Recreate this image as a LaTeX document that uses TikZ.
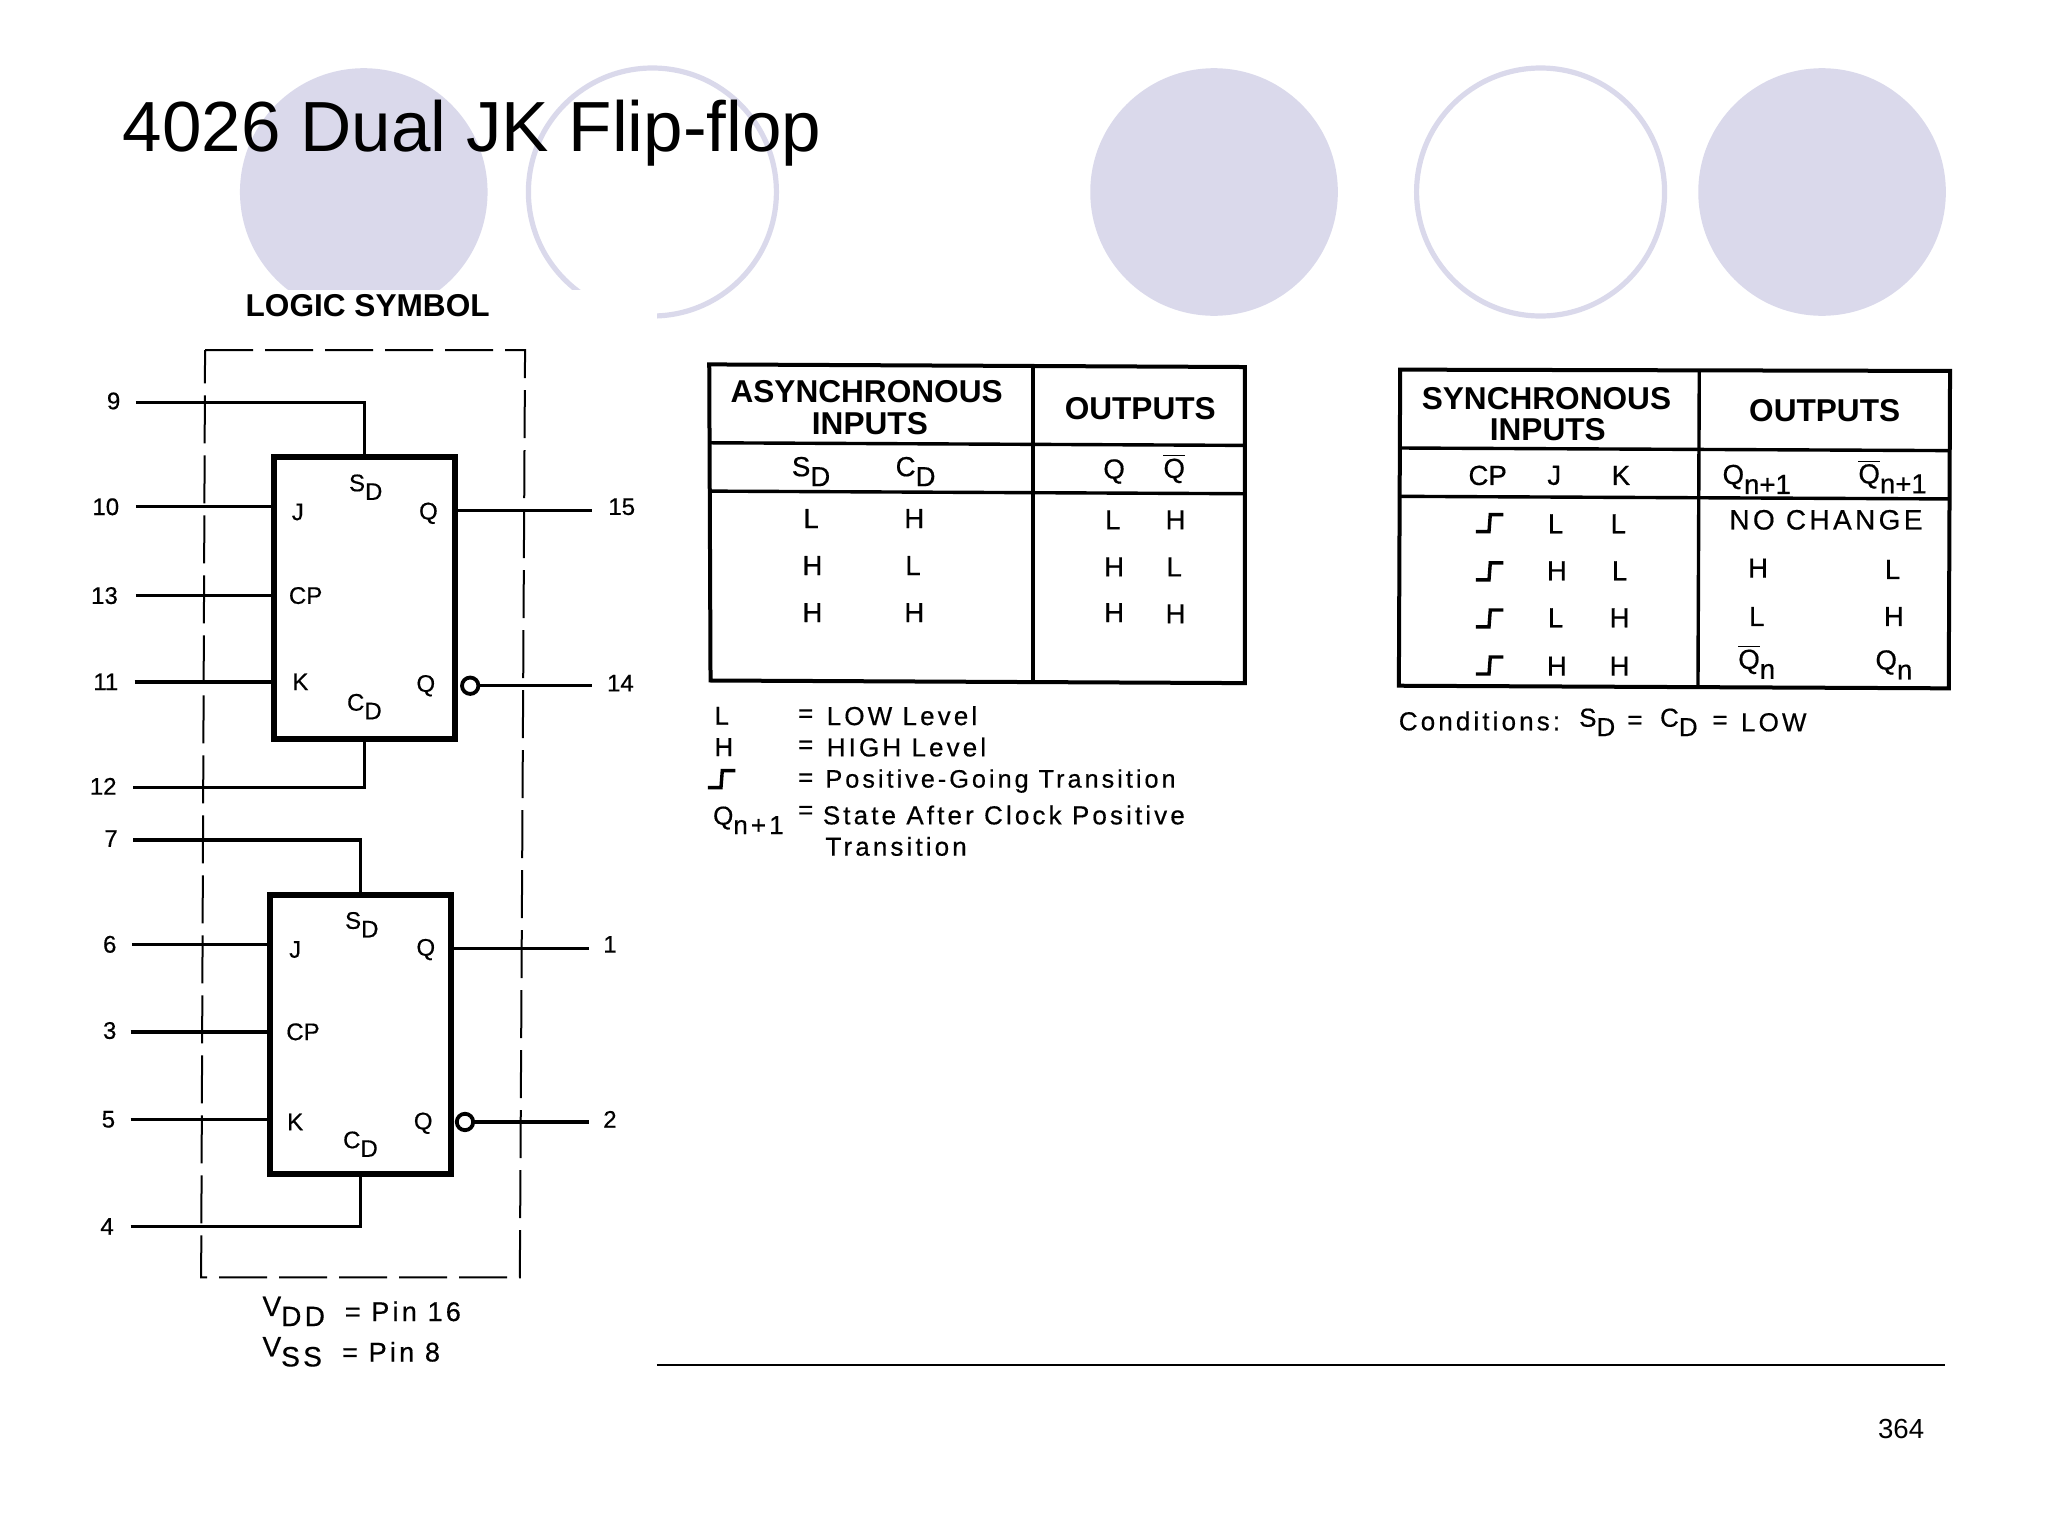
\documentclass[tikz,border=0pt]{standalone}
\usepackage{fontspec}
\setmainfont{Liberation Sans}
\newfontfamily\scanfont[FakeBold=0.5]{Liberation Sans}
\newfontfamily\spacedfont[LetterSpace=12,FakeBold=0.5]{Liberation Sans}
\newcommand{\dn}[1]{\raisebox{-0.36em}{#1}}
\newcommand{\qbar}{$\overline{\mbox{Q}}$}
\definecolor{lav}{RGB}{218,217,235}
\tikzset{
  x=0.65306pt,y=-0.65306pt,
  txt/.style={inner sep=0pt,outer sep=0pt,anchor=center},
  titletxt/.style={txt,anchor=base west,font=\fontsize{35.5pt}{40pt}\selectfont},
  hdr/.style={txt,font=\fontsize{15.8pt}{18pt}\selectfont\bfseries},
  pin/.style={txt,font=\fontsize{12pt}{14pt}\selectfont\scanfont},
  lbl/.style={txt,font=\fontsize{12pt}{14pt}\selectfont\scanfont},
  cell/.style={txt,font=\fontsize{13.8pt}{16pt}\selectfont\scanfont},
  widecell/.style={txt,font=\fontsize{14pt}{16pt}\selectfont\spacedfont},
  leg/.style={txt,anchor=west,font=\fontsize{13pt}{15pt}\selectfont\spacedfont},
  legnarrow/.style={txt,anchor=west,font=\fontsize{12.6pt}{15pt}\selectfont\spacedfont},
  vdd/.style={txt,anchor=west,font=\fontsize{14pt}{16pt}\selectfont\spacedfont},
  vddpin/.style={txt,anchor=west,font=\fontsize{13.5pt}{16pt}\selectfont\spacedfont},
  disc/.style={circle,fill=lav,draw=none,minimum size=123.8pt,inner sep=0pt},
  ringc/.style={circle,draw=lav,line width=2.6pt,minimum size=124pt,inner sep=0pt},
  ffbox/.style={draw,line width=3pt,minimum width=90.1pt,inner sep=0pt,outer sep=0pt},
  wire/.style={line width=1.7pt},
  bubble/.style={circle,draw,line width=1.9pt,minimum size=8.2pt,inner sep=0pt,outer sep=0pt},
  frame/.style={line width=1pt,dash pattern=on 24pt off 6pt},
  tabo/.style={line width=2pt,line join=miter},
  tabi/.style={line width=1.7pt},
  stepsym/.pic={\draw[line width=1.7pt] (-10,7)--(0,7)--(1,-6)--(11,-6);}
}
\begin{document}
\begin{tikzpicture}
\useasboundingbox (0,0) rectangle (1568,1176);
% background circles
\node[disc]  (c1) at (278.5,147) {};
\node[ringc] (c2) at (499.5,147) {};
\node[disc]  (c3) at (929.5,147) {};
\node[ringc] (c4) at (1179.5,147) {};
\node[disc]  (c5) at (1395,147) {};
\fill[white] (150,222) rectangle (503,262);
% title
\node[titletxt] (title) at (94,116) {4026 Dual JK Flip-flop};
\node[hdr] (logic) at (281.5,234) {LOGIC SYMBOL};
% dashed package frame
\draw[frame] (157,268) -- (402,268) -- (398,978) -- (154,978) -- cycle;
% flip-flop 1
\node[ffbox,minimum height=140.8pt] (ff1) at (279,458) {};
\node[bubble] (b1) at (360,525) {};
\coordinate (p9) at (104,308);
\coordinate (p10) at (104,388);
\coordinate (p13) at (104,456);
\coordinate (p11) at (103,522);
\coordinate (p12) at (102,603);
\coordinate (p15) at (453,391);
\coordinate (p14) at (453,525);
\draw[wire] (p9) -| (ff1.north);
\draw[wire] (p10) -- (p10 -| ff1.west);
\draw[wire] (p13) -- (p13 -| ff1.west);
\draw[wire] (p11) -- (p11 -| ff1.west);
\draw[wire] (p12) -| (ff1.south);
\draw[wire] (p15 -| ff1.east) -- (p15);
\draw[wire] (b1.east) -- (p14);
\node[pin] (n9) at (87,307) {9};
\node[pin] (n10) at (81,388) {10};
\node[pin] (n13) at (80,456) {13};
\node[pin] (n11) at (81,522) {11};
\node[pin] (n12) at (79,602) {12};
\node[pin] (n15) at (476,388) {15};
\node[pin] (n14) at (475,523) {14};
\node[lbl] (j1) at (228,392) {J};
\node[lbl] (cp1) at (234,456) {CP};
\node[lbl] (k1) at (230,522) {K};
\node[lbl] (q1) at (328,393) {Q};
\node[lbl] (qn1) at (326,525) {Q};
\node[lbl] (s1) at (280,373) {S\dn{D}};
\node[lbl] (r1) at (279,541) {C\dn{D}};
% flip-flop 2
\node[ffbox,minimum height=139.8pt] (ff2) at (276,792) {};
\node[bubble] (b2) at (356,859) {};
\coordinate (p7) at (102,643);
\coordinate (p6) at (101,723);
\coordinate (p3) at (100,790);
\coordinate (p5) at (100,857);
\coordinate (p4) at (100,939);
\coordinate (p1) at (451,726);
\coordinate (p2) at (451,859);
\draw[wire] (p7) -| (ff2.north);
\draw[wire] (p6) -- (p6 -| ff2.west);
\draw[wire] (p3) -- (p3 -| ff2.west);
\draw[wire] (p5) -- (p5 -| ff2.west);
\draw[wire] (p4) -| (ff2.south);
\draw[wire] (p1 -| ff2.east) -- (p1);
\draw[wire] (b2.east) -- (p2);
\node[pin] (n7) at (85,642) {7};
\node[pin] (n6) at (84,723) {6};
\node[pin] (n3) at (84,789) {3};
\node[pin] (n5) at (83,857) {5};
\node[pin] (n4) at (82,939) {4};
\node[pin] (n1) at (467,723) {1};
\node[pin] (n2) at (467,857) {2};
\node[lbl] (j2) at (226,727) {J};
\node[lbl] (cp2) at (232,790) {CP};
\node[lbl] (k2) at (226,859) {K};
\node[lbl] (q2) at (326,727) {Q};
\node[lbl] (qn2) at (324,860) {Q};
\node[lbl] (s2) at (277,708) {S\dn{D}};
\node[lbl] (r2) at (276,876) {C\dn{D}};
% supply
\node[vdd] (vdd) at (201,1004) {V\dn{DD}};
\node[vddpin] (vddp) at (264,1004) {= Pin 16};
\node[vdd] (vss) at (201,1035) {V\dn{SS}};
\node[vddpin] (vssp) at (262,1035) {= Pin 8};
% asynchronous table
\draw[tabo] (543,279) -- (953,281) -- (953,523) -- (544,521) -- cycle;
\draw[tabi] (543,339) -- (953,341);
\draw[tabi] (543,376) -- (953,378);
\draw[tabi] (791,280) -- (791,522);
\node[hdr] (a1) at (663.5,300) {ASYNCHRONOUS};
\node[hdr] (a2) at (666,324) {INPUTS};
\node[hdr] (a3) at (873,313) {OUTPUTS};
\node[cell] (a4) at (621,361) {S\dn{D}};
\node[cell] (a5) at (701,361) {C\dn{D}};
\node[cell] (a6) at (853,361) {Q};
\node[cell] (a7) at (899,359) {\qbar};
\node[cell] (a11) at (621,397) {L};
\node[cell] (a12) at (700,397) {H};
\node[cell] (a13) at (852,398) {L};
\node[cell] (a14) at (900,398) {H};
\node[cell] (a21) at (622,433) {H};
\node[cell] (a22) at (699,433) {L};
\node[cell] (a23) at (853,434) {H};
\node[cell] (a24) at (899,434) {L};
\node[cell] (a31) at (622,469) {H};
\node[cell] (a32) at (700,469) {H};
\node[cell] (a33) at (853,469) {H};
\node[cell] (a34) at (900,470) {H};
% legend
\node[leg] (l1) at (547,548) {L};
\node[leg] (l1e) at (611,548) {=};
\node[leg] (l1t) at (633,548) {LOW Level};
\node[leg] (l2) at (547,572) {H};
\node[leg] (l2e) at (611,572) {=};
\node[leg] (l2t) at (633,572) {HIGH Level};
\pic at (552,596) {stepsym};
\node[leg] (l3e) at (611,597) {=};
\node[legnarrow] (l3t) at (632,598) {Positive-Going Transition};
\node[leg] (l4) at (546,628) {Q\dn{n+1}};
\node[leg] (l4e) at (611,622) {=};
\node[leg] (l4t) at (630,624) {State After Clock Positive};
\node[leg] (l5t) at (632,648) {Transition};
% synchronous table
\draw[tabo] (1072,283) -- (1493,284) -- (1492,527) -- (1071,525) -- cycle;
\draw[tabi] (1072,343) -- (1493,345);
\draw[tabi] (1072,380) -- (1493,382);
\draw[tabi] (1301,284) -- (1300,526);
\node[hdr] (s1h) at (1184,305) {SYNCHRONOUS};
\node[hdr] (s2h) at (1185,329) {INPUTS};
\node[hdr] (s3h) at (1397,314) {OUTPUTS};
\node[cell] (s4) at (1139,364) {CP};
\node[cell] (s5) at (1190,364) {J};
\node[cell] (s6) at (1241,364) {K};
\node[cell] (s7) at (1345,367) {Q\dn{n+1}};
\node[cell] (s8) at (1449,365) {\qbar\dn{n+1}};
\pic at (1140,400) {stepsym};
\pic at (1140,437) {stepsym};
\pic at (1140,473) {stepsym};
\pic at (1140,509) {stepsym};
\node[cell] (s11) at (1191,401) {L};
\node[cell] (s12) at (1239,401) {L};
\node[widecell] (s13) at (1398,398) {NO CHANGE};
\node[cell] (s21) at (1192,437) {H};
\node[cell] (s22) at (1240,437) {L};
\node[cell] (s23) at (1346,435) {H};
\node[cell] (s24) at (1449,436) {L};
\node[cell] (s31) at (1191,473) {L};
\node[cell] (s32) at (1240,473) {H};
\node[cell] (s33) at (1345,472) {L};
\node[cell] (s34) at (1450,472) {H};
\node[cell] (s41) at (1192,510) {H};
\node[cell] (s42) at (1240,510) {H};
\node[cell] (s43) at (1345,507) {\qbar\dn{n}};
\node[cell] (s44) at (1450,509) {Q\dn{n}};
\node[leg] (co1) at (1071,552) {Conditions:};
\node[leg] (co2) at (1209,553) {S\dn{D}};
\node[leg] (co3) at (1246,553) {=};
\node[leg] (co4) at (1271,553) {C\dn{D}};
\node[leg] (co5) at (1311,553) {=};
\node[leg] (co6) at (1333,553) {LOW};
% footer
\coordinate (rule1) at (503,1045);
\coordinate (rule2) at (1489,1045);
\draw[line width=0.9pt] (rule1) -- (rule2);
\node[txt,font=\fontsize{13.8pt}{16pt}\selectfont] (page) at (1455.5,1094) {364};
\end{tikzpicture}
\end{document}
